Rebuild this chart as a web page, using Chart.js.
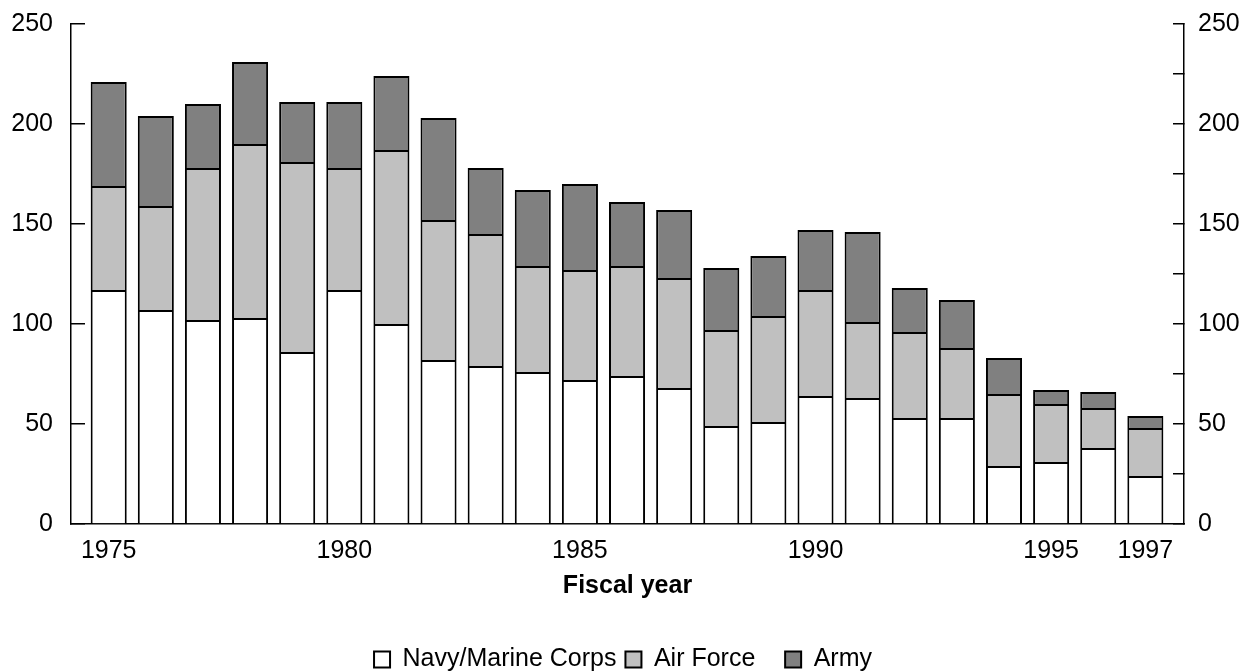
<!DOCTYPE html>
<html>
<head>
<meta charset="utf-8">
<script src="https://cdn.jsdelivr.net/npm/chart.js@4"></script>
<style>
  body { margin: 0; background: #fff; }
  #wrap { width: 1246px; height: 671px; }
</style>
</head>
<body>
<div id="wrap"><canvas id="chart"></canvas></div>
<script>
// Fiscal years and stacked values
const years = [1975, 1976, 1977, 1978, 1979, 1980, 1981, 1982, 1983, 1984, 1985, 1986,
               1987, 1988, 1989, 1990, 1991, 1992, 1993, 1994, 1995, 1996, 1997];
const navyMarine = [117, 107, 102, 103, 86, 117, 100, 82, 79, 76, 72, 74,
                    68, 49, 51, 64, 63, 53, 53, 29, 31, 38, 24];
const airForce = [52, 52, 76, 87, 95, 61, 87, 70, 66, 53, 55, 55,
                  55, 48, 53, 53, 38, 43, 35, 36, 29, 20, 24];
const army = [52, 45, 32, 41, 30, 33, 37, 51, 33, 38, 43, 32,
              34, 31, 30, 30, 45, 22, 24, 18, 7, 8, 6];
const yearTicks = [1975, 1980, 1985, 1990, 1995, 1997];

const FONT = '"Liberation Sans", Arial, sans-serif';

function toPoints(values) {
    return years.map((yr, i) => ({ x: yr, y: values[i] }));
}

function barSet(label, values, fill) {
    return {
        label: label,
        data: toPoints(values),
        backgroundColor: fill,
        borderColor: '#000',
        borderWidth: 2,
        barPercentage: 0.765,
        categoryPercentage: 1
    };
}

// fixed side width, and don't let the big tick padding push the plot down
function sideFit(width) {
    return scale => {
        scale.width = width;
        scale.paddingTop = 15;
        scale.paddingBottom = 15;
    };
}

new Chart(document.getElementById('chart'), {
    type: 'bar',
    data: {
        datasets: [
            barSet('Navy/Marine Corps ', navyMarine, '#ffffff'),
            barSet('Air Force    ', airForce, '#c0c0c0'),
            barSet('Army', army, '#808080')
        ]
    },
    options: {
        responsive: true,
        maintainAspectRatio: false,
        animation: false,
        layout: { padding: { top: 24, bottom: -11 } },
        plugins: {
            tooltip: { enabled: false },
            legend: {
                position: 'bottom',
                labels: {
                    boxWidth: 16,
                    boxHeight: 16,
                    padding: 2,
                    color: '#000',
                    font: { family: FONT, size: 25 }
                }
            }
        },
        scales: {
            x: {
                type: 'linear',
                stacked: true,
                offset: false,
                min: 1974.2,
                max: 1997.82,
                afterBuildTicks: scale => { scale.ticks = yearTicks.map(v => ({ value: v })); },
                afterFit: scale => { scale.height = 121; },
                grid: { display: false, drawTicks: false },
                border: { display: true, color: '#000', width: 1.5 },
                ticks: {
                    color: '#000',
                    padding: 12,
                    maxRotation: 0,
                    autoSkip: false,
                    font: { family: FONT, size: 25 },
                    callback: v => String(v)
                },
                title: {
                    display: true,
                    text: 'Fiscal year',
                    color: '#000',
                    padding: { top: 4, bottom: 44 },
                    font: { family: FONT, size: 25, weight: 'bold' }
                }
            },
            y: {
                position: 'left',
                stacked: true,
                min: 0,
                max: 250,
                afterFit: sideFit(71),
                grid: { drawOnChartArea: false, color: '#000', tickLength: -14, lineWidth: 1.5 },
                border: { display: true, color: '#000', width: 1.5 },
                ticks: {
                    stepSize: 50,
                    padding: 32,
                    color: '#000',
                    font: { family: FONT, size: 25 }
                }
            },
            y2: {
                position: 'right',
                min: 0,
                max: 250,
                afterFit: sideFit(62),
                grid: { drawOnChartArea: false, color: '#000', tickLength: -11, lineWidth: 1.5 },
                border: { display: true, color: '#000', width: 1.5 },
                ticks: {
                    stepSize: 25,
                    padding: 25,
                    color: '#000',
                    font: { family: FONT, size: 25 },
                    callback: v => (v % 50 === 0 ? v : '')
                }
            }
        }
    }
});
</script>
</body>
</html>
